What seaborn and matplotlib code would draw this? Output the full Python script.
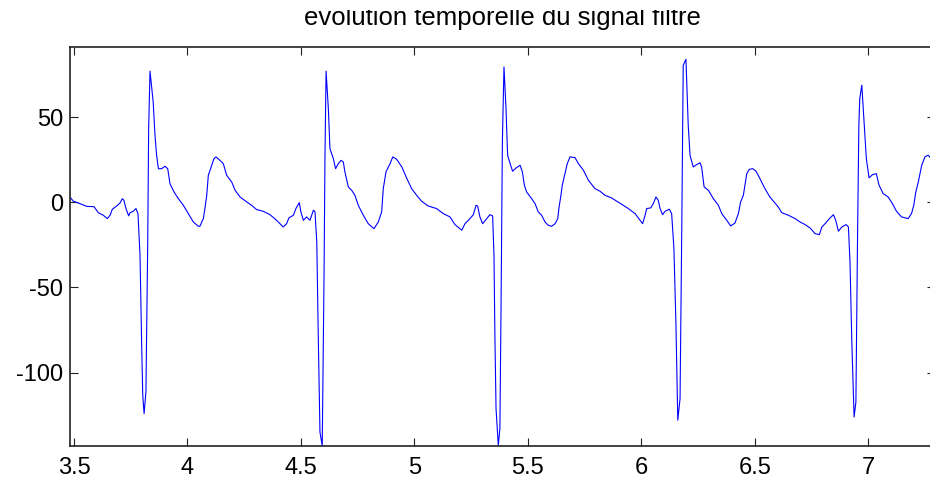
import numpy as np
import pandas as pd
import matplotlib
matplotlib.use("Agg")
import matplotlib.pyplot as plt
from matplotlib.transforms import Bbox
import seaborn as sns

# ---- data ----
time_s = [
    3.483, 3.497, 3.526, 3.556, 3.588, 3.607, 3.629, 3.647, 3.659, 3.669, 3.688, 3.703, 3.713, 3.720,
    3.729, 3.741, 3.747, 3.761, 3.773, 3.782, 3.791, 3.798, 3.803, 3.809, 3.817, 3.825, 3.829, 3.835,
    3.849, 3.857, 3.864, 3.872, 3.886, 3.901, 3.913, 3.923, 3.941, 3.960, 3.982, 4.004, 4.026, 4.048,
    4.055, 4.070, 4.077, 4.085, 4.092, 4.107, 4.117,
    4.126, 4.143, 4.158, 4.173, 4.195, 4.210, 4.232, 4.261, 4.283, 4.305, 4.334, 4.364, 4.393, 4.422,
    4.437, 4.447, 4.467, 4.478, 4.493, 4.500, 4.511, 4.525, 4.540, 4.555, 4.562, 4.570, 4.577, 4.584,
    4.594, 4.602, 4.606, 4.611, 4.621, 4.628, 4.643, 4.653, 4.665, 4.677, 4.687, 4.694, 4.709, 4.724,
    4.738, 4.753, 4.775, 4.797, 4.822, 4.841, 4.856, 4.863, 4.875, 4.893, 4.905, 4.922, 4.945, 4.967,
    4.988, 5.010, 5.032, 5.061, 5.098, 5.128, 5.157, 5.179, 5.209, 5.223, 5.238, 5.260, 5.272, 5.279,
    5.289, 5.301, 5.319, 5.333, 5.345, 5.351, 5.355, 5.360, 5.370, 5.377, 5.382, 5.388, 5.395,
    5.404, 5.411, 5.422, 5.433, 5.448, 5.466, 5.476, 5.485, 5.495, 5.517, 5.532, 5.546, 5.561, 5.576,
    5.590, 5.605, 5.620, 5.632, 5.637, 5.646, 5.652, 5.664, 5.674, 5.686, 5.708, 5.723, 5.745, 5.767,
    5.796, 5.818, 5.840, 5.870, 5.892, 5.921, 5.943,
    5.973, 5.995, 6.006, 6.017, 6.024, 6.042, 6.053, 6.065, 6.075, 6.083, 6.094, 6.105, 6.124, 6.134,
    6.144, 6.153, 6.161, 6.171, 6.178, 6.185, 6.197, 6.207, 6.215, 6.229, 6.244, 6.259, 6.266, 6.277,
    6.296, 6.318, 6.340, 6.355, 6.377, 6.394, 6.413, 6.428, 6.438, 6.450, 6.465, 6.476, 6.491, 6.506,
    6.523, 6.545, 6.567,
    6.585, 6.604, 6.619, 6.648, 6.678, 6.700, 6.722, 6.744, 6.766, 6.785, 6.796, 6.810, 6.832, 6.847,
    6.857, 6.869, 6.884, 6.903, 6.913, 6.920, 6.928, 6.938, 6.946, 6.953, 6.959, 6.963, 6.972, 6.982,
    6.992, 7.004, 7.019, 7.036, 7.048, 7.066, 7.088, 7.107, 7.125, 7.147, 7.176, 7.191, 7.201, 7.210,
    7.221, 7.236, 7.250, 7.264, 7.275, 7.294,
]
signal_filtre = [
    3.0, 0.6, -0.8, -2.4, -2.6, -6.1, -7.6, -9.6, -7.6, -4.1, -2.2, -0.4, 2.1, 1.1,
    -3.7, -8.0, -6.1, -5.3, -3.7, -6.7, -31.1, -82.0, -113.3, -124.0, -111.3, -23.3, 43.2, 76.9,
    58.9, 39.3, 27.6, 19.7, 19.7, 21.1, 19.7, 10.9, 6.0, 2.1, -1.8, -6.7, -11.6, -14.1,
    -14.1, -9.6, -3.7, 4.1, 15.8, 21.7, 25.6,
    26.6, 24.6, 22.7, 15.8, 11.9, 7.0, 3.1, 0.2, -1.8, -4.3, -5.3, -7.3, -10.6, -14.5,
    -12.6, -9.2, -7.6, -3.7, -0.2, -5.7, -10.6, -8.6, -10.6, -4.7, -5.5, -23.3, -82.0, -134.8,
    -143.0, -42.9, 25.6, 76.9, 54.9, 31.5, 25.6, 19.7, 22.7, 24.6, 23.6, 17.8, 9.0, 7.0,
    4.1, -1.8, -7.6, -12.6, -15.5, -11.6, -5.7, 8.0, 17.8, 22.7, 26.6, 25.2, 20.7, 13.9,
    8.0, 4.1, 0.6, -2.2, -3.7, -6.7, -8.6, -13.1, -16.4, -12.6, -10.6, -7.3, -1.8, -2.2,
    -8.6, -12.6, -9.6, -7.3, -8.0, -31.1, -78.0, -121.1, -142.6, -132.9, -62.4, 35.4, 79.4,
    54.9, 27.6, 22.7, 18.2, 20.1, 21.7, 17.8, 10.0, 6.0, 2.1, -0.8, -5.7, -7.6, -11.6,
    -13.5, -14.1, -12.6, -9.6, -3.7, 4.1, 10.0, 16.8, 22.7, 26.6, 26.2, 22.7, 18.8, 12.9,
    8.0, 6.5, 4.1, 2.5, 0.6, -1.8, -3.7,
    -6.7, -10.6, -12.6, -7.6, -3.7, -3.3, -0.8, 3.1, 1.1, -3.7, -7.3, -5.3, -4.1, -6.7,
    -27.2, -72.2, -127.9, -115.2, -23.3, 80.4, 83.9, 45.2, 27.6, 20.7, 22.1, 23.2, 20.7, 9.0,
    7.0, 2.1, -1.8, -6.7, -10.6, -13.9, -12.2, -6.7, 0.2, 4.1, 16.8, 19.3, 19.7, 18.2,
    13.9, 8.0, 3.1,
    0.2, -2.8, -6.1, -7.6, -9.6, -11.6, -13.1, -15.1, -18.4, -19.0, -14.5, -12.6, -9.2, -7.3,
    -10.6, -17.0, -14.5, -13.1, -14.5, -35.0, -82.0, -126.0, -117.2, -23.3, 45.2, 60.8, 68.7, 47.1,
    25.6, 14.3, 16.2, 16.8, 10.0, 5.1, 3.1, -0.8, -5.3, -8.6, -9.6, -6.7, -1.8, 6.0,
    11.9, 21.7, 26.6, 27.6, 26.0, 24.0,
]
x_ticks = [3.5, 4, 4.5, 5, 5.5, 6, 6.5, 7]
x_tick_labels = ["3.5", "4", "4.5", "5", "5.5", "6", "6.5", "7"]
y_ticks = [-100, -50, 0, 50]
y_tick_labels = ["-100", "-50", "0", "50"]
title_text = "evolution temporelle du signal filtre"

df = pd.DataFrame({"t": time_s, "s": signal_filtre})

sns.set_style("ticks")
plt.rcParams["font.family"] = ["Liberation Sans", "DejaVu Sans"]
plt.rcParams["axes.unicode_minus"] = False

W, H = 930, 483
fig = plt.figure(figsize=(W / 100, H / 100), dpi=100)
left, right, top, bottom = 70, 935, 47, 446.3
ax = fig.add_axes([left / W, (H - bottom) / H, (right - left) / W, (bottom - top) / H])

sns.lineplot(data=df, x="t", y="s", ax=ax, color="#0000FF", linewidth=0.8,
             estimator=None, sort=False)

ax.set_xlim(3.4824, 7.2946)
ax.set_ylim(-143.2, 91.1)
ax.set_xticks(x_ticks)
ax.set_xticklabels(x_tick_labels)
ax.set_yticks(y_ticks)
ax.set_yticklabels(y_tick_labels)
ax.set_xlabel("")
ax.set_ylabel("")

for sp in ax.spines.values():
    sp.set_visible(True)
    sp.set_linewidth(1.2)
    sp.set_color("#222222")

ax.tick_params(axis="both", which="major", direction="in", length=5.8, width=0.8,
               color="#222222", labelsize=17, labelcolor="black",
               top=True, right=True)
ax.tick_params(axis="x", pad=7.5)
ax.tick_params(axis="y", pad=5)

ttl = ax.set_title(title_text, fontsize=18.5, pad=16, color="black")
# the reference picture is cropped just above the title's x-height
ttl.set_clip_box(Bbox.from_extents(0, 0, W, H - 10))
ttl.set_clip_on(True)

fig.savefig("out.png", dpi=100)
